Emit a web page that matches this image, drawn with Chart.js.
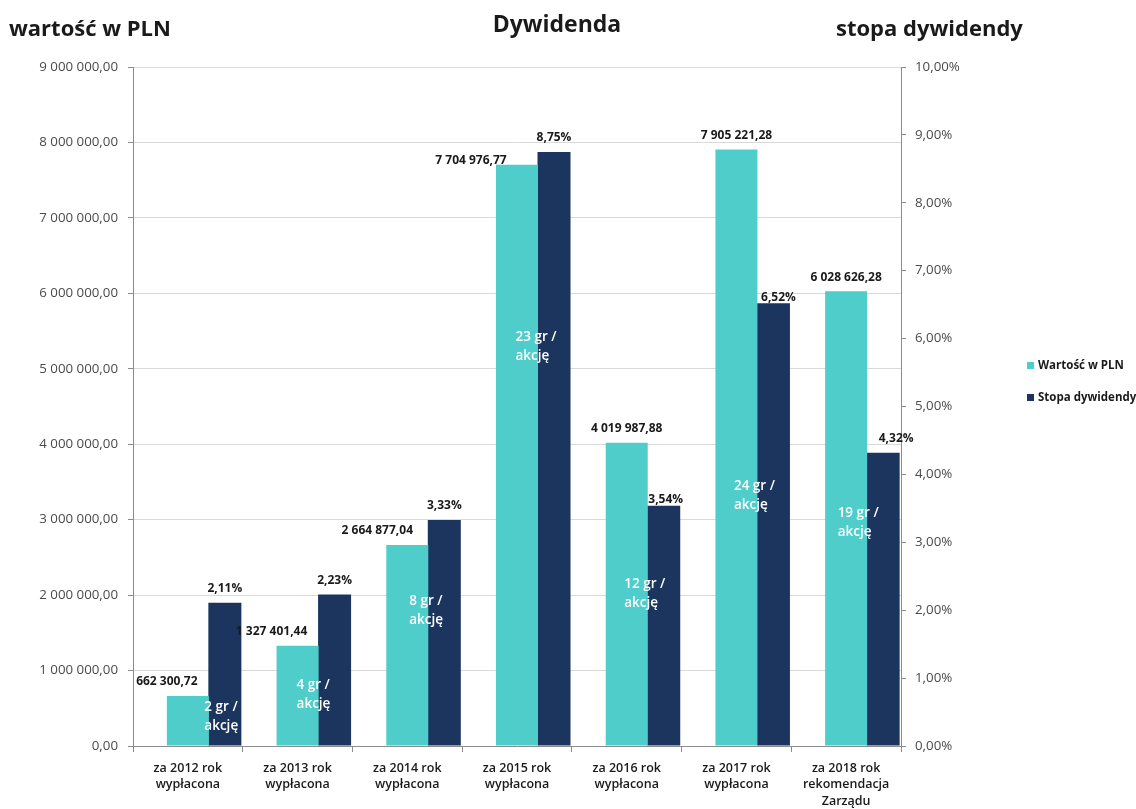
<!DOCTYPE html>
<html>
<head>
<meta charset="utf-8">
<script src="https://cdn.jsdelivr.net/npm/chart.js@4/dist/chart.umd.min.js"></script>
<style>
  html, body { margin: 0; padding: 0; background: #ffffff; }
  #wrap { position: relative; width: 1136px; height: 809px; }
</style>
</head>
<body>
<div id="wrap"><canvas id="c" width="1136" height="809"></canvas></div>
<script>
// ---- data ----
const categories = [
  ['za 2012 rok', 'wypłacona'],
  ['za 2013 rok', 'wypłacona'],
  ['za 2014 rok', 'wypłacona'],
  ['za 2015 rok', 'wypłacona'],
  ['za 2016 rok', 'wypłacona'],
  ['za 2017 rok', 'wypłacona'],
  ['za 2018 rok', 'rekomendacja', 'Zarządu']
];
const valuePLN = [662300.72, 1327401.44, 2664877.04, 7704976.77, 4019987.88, 7905221.28, 6028626.28];
const dividendYield = [2.11, 2.23, 3.33, 8.75, 3.54, 6.52, 4.32];
const perShareGr = [2, 4, 8, 23, 12, 24, 19];
const seriesNames = ['Wartość w PLN', 'Stopa dywidendy'];
const leftTicksMax = 9000000;
const rightTicksMax = 10;

// ---- styling (label nudges in pixels) ----
const TEAL = '#4ecdcb';
const NAVY = '#1b355e';
const valueLabelNudge = { dx: [-21, -26, -30, -46, 0, 0, 0], dy: [0, 0, 0, 10, 0, 0, 0] };
const yieldLabelNudge = { dx: [0, 0, 0, 0, 2, 5, 13], dy: [0, 0, 0, 0, 8, 8, 0] };
const perShareNudge = { dx: [16.5, -1, 2, -1.5, -2.5, -2.5, -8.5], dy: [-4.5, -1.5, -34.5, -108.5, 0, 48.5, 4.5] };

function fmtPLN(v) {
  const s = Number(v).toFixed(2).split('.');
  const int = s[0].replace(/\B(?=(\d{3})+(?!\d))/g, ' ');
  return int + ',' + s[1];
}
function fmtPct(v) {
  return Number(v).toFixed(2).replace('.', ',') + '%';
}

const FONT = "'Open Sans', 'DejaVu Sans', sans-serif";

const decorPlugin = {
  id: 'decor',
  afterDatasetsDraw(chart) {
    const ctx = chart.ctx;
    const metaTeal = chart.getDatasetMeta(1);
    const metaNavy = chart.getDatasetMeta(2);
    ctx.save();
    // value labels above bars
    ctx.font = "bold 12px " + FONT;
    ctx.fillStyle = '#1a1a1a';
    ctx.textAlign = 'center';
    ctx.textBaseline = 'middle';
    metaTeal.data.forEach((el, i) => {
      ctx.fillText(fmtPLN(valuePLN[i]), el.x + valueLabelNudge.dx[i], el.y - 14 + valueLabelNudge.dy[i]);
    });
    metaNavy.data.forEach((el, i) => {
      ctx.fillText(fmtPct(dividendYield[i]), el.x + yieldLabelNudge.dx[i], el.y - 14 + yieldLabelNudge.dy[i]);
    });
    // per share labels (white)
    ctx.font = "600 13.5px " + FONT;
    ctx.fillStyle = '#ffffff';
    ctx.textAlign = 'left';
    metaTeal.data.forEach((el, i) => {
      const mid = (el.y + el.base) / 2 + perShareNudge.dy[i];
      const x = el.x + perShareNudge.dx[i];
      ctx.fillText(perShareGr[i] + ' gr /', x, mid - 9.5);
      ctx.fillText('akcję', x, mid + 9.5);
    });
    ctx.restore();
  },
  afterDraw(chart) {
    const ctx = chart.ctx;
    ctx.save();
    ctx.fillStyle = '#1a1a1a';
    ctx.textBaseline = 'middle';
    ctx.font = "bold 22px " + FONT;
    ctx.textAlign = 'left';
    ctx.fillText('wartość w PLN', 9, 30);
    ctx.fillText('stopa dywidendy', 836, 30);
    ctx.textAlign = 'center';
    ctx.font = "bold 23px " + FONT;
    ctx.fillText('Dywidenda', 557, 25);
    // x category labels
    const xs = chart.scales.x;
    ctx.font = "600 12.5px " + FONT;
    ctx.fillStyle = '#1a1a1a';
    categories.forEach((lines, i) => {
      const cx = xs.getPixelForValue(i);
      lines.forEach((t, j) => {
        ctx.fillText(t, cx, xs.top + 22 + j * 16.5);
      });
    });
    // legend
    ctx.font = "bold 11.5px " + FONT;
    ctx.textAlign = 'left';
    const items = [[chart.data.datasets[1].label, TEAL, 366], [chart.data.datasets[2].label, NAVY, 398]];
    items.forEach(([t, col, y]) => {
      ctx.fillStyle = col;
      ctx.fillRect(1027, y - 4, 7, 7);
      ctx.fillStyle = '#1a1a1a';
      ctx.fillText(t, 1038, y);
    });
    ctx.restore();
  }
};

const grid = '#d9d9d9';
const axisGray = '#8c8c8c';

new Chart(document.getElementById('c'), {
  type: 'bar',
  data: {
    labels: categories,
    datasets: [
      { label: '', data: categories.map(() => null), yAxisID: 'y', backgroundColor: 'rgba(0,0,0,0)',
        categoryPercentage: 1.012, barPercentage: 1 },
      { label: seriesNames[0], data: valuePLN, yAxisID: 'y', backgroundColor: TEAL,
        categoryPercentage: 1.012, barPercentage: 1.135 },
      { label: seriesNames[1], data: dividendYield, yAxisID: 'y1', backgroundColor: NAVY,
        categoryPercentage: 1.012, barPercentage: 0.892 }
    ]
  },
  options: {
    responsive: false,
    animation: false,
    layout: { padding: { top: 67, left: 0, right: 0, bottom: 0 } },
    plugins: { legend: { display: false }, tooltip: { enabled: false }, title: { display: false } },
    scales: {
      x: {
        offset: true,
        grid: { offset: true, drawOnChartArea: false, drawTicks: true, tickLength: 6, tickColor: axisGray },
        border: { color: axisGray },
        ticks: { display: false },
        afterFit(s) { s.height = 63; }
      },
      y: {
        position: 'left', min: 0, max: leftTicksMax,
        ticks: { stepSize: 1000000, color: '#4a4a4a', font: { family: FONT, size: 13.3 }, padding: 10, callback: v => fmtPLN(v) },
        grid: { color: grid, tickColor: axisGray, tickLength: 5 },
        border: { color: axisGray },
        afterFit(s) { s.width = 133; }
      },
      y1: {
        position: 'right', min: 0, max: rightTicksMax,
        ticks: { stepSize: 1, color: '#4a4a4a', font: { family: FONT, size: 13.3 }, padding: 9, callback: v => fmtPct(v) },
        grid: { drawOnChartArea: false, tickColor: axisGray, tickLength: 5 },
        border: { color: axisGray },
        afterFit(s) { s.width = 235; }
      }
    }
  },
  plugins: [decorPlugin]
});
</script>
</body>
</html>
